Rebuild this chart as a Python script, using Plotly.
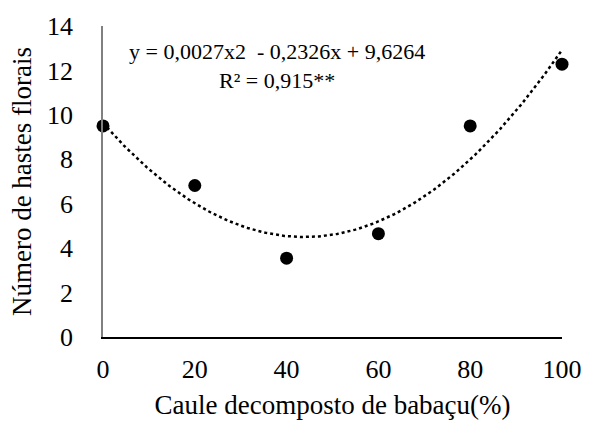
import numpy as np
import plotly.graph_objects as go

x_vals = [0, 20, 40, 60, 80, 100]
y_vals = [9.5, 6.82, 3.55, 4.65, 9.5, 12.28]
x_ticks = [0, 20, 40, 60, 80, 100]
y_ticks = [0, 2, 4, 6, 8, 10, 12, 14]
equation = "y = 0,0027x2  - 0,2326x + 9,6264<br>R² = 0,915**"

coef = np.polyfit(x_vals, y_vals, 2)
xs = np.linspace(0, 100, 201)
ys = np.polyval(coef, xs)

FONT = '"Liberation Serif", "Times New Roman", Times, serif'

fig = go.Figure()
fig.add_trace(go.Scatter(x=xs, y=ys, mode="lines",
                         line=dict(color="black", width=2.5, dash="dot"),
                         hoverinfo="skip", showlegend=False))
fig.add_trace(go.Scatter(x=x_vals, y=y_vals, mode="markers",
                         marker=dict(color="black", size=13),
                         cliponaxis=False, showlegend=False))

fig.add_annotation(x=38, y=12.2, xref="x", yref="y", text=equation,
                   showarrow=False, align="center",
                   font=dict(family=FONT, size=22, color="black"))

fig.update_layout(
    width=594, height=428,
    margin=dict(l=103, r=24, t=21, b=91),
    paper_bgcolor="white", plot_bgcolor="white",
    font=dict(family=FONT, size=26, color="black"),
    xaxis=dict(range=[0, 100], tickvals=x_ticks, showgrid=False, zeroline=False,
               showline=True, linecolor="black", linewidth=1.5,
               ticks="", ticklabelstandoff=8,
               tickfont=dict(family=FONT, size=26),
               title=dict(text="Caule decomposto de babaçu(%)", standoff=12,
                          font=dict(family=FONT, size=27))),
    yaxis=dict(range=[0, 14], tickvals=y_ticks, showgrid=False, zeroline=False,
               showline=True, linecolor="#808080", linewidth=1.5,
               ticks="", ticklabelstandoff=23,
               tickfont=dict(family=FONT, size=26),
               title=dict(text="Número de hastes florais", standoff=8,
                          font=dict(family=FONT, size=27))),
)

fig.write_html("out.html")
